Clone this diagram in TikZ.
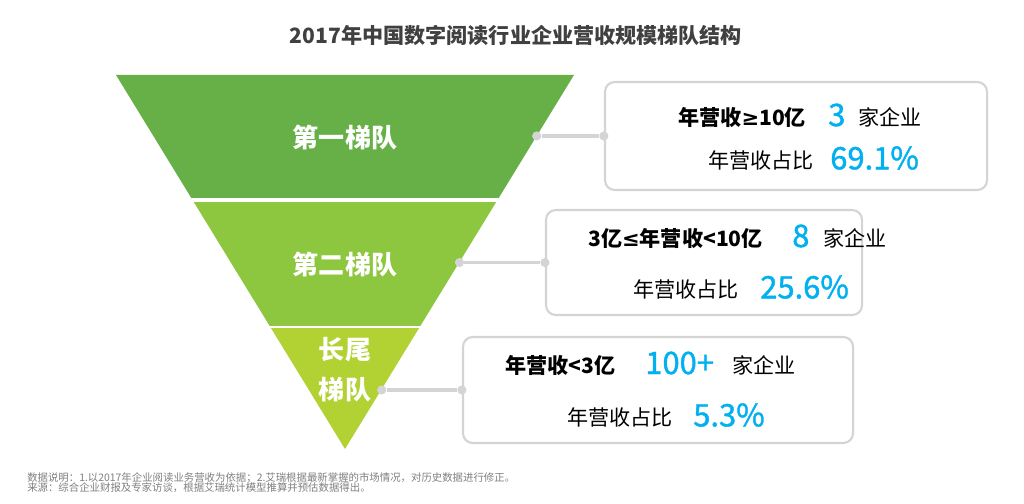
\documentclass[tikz,border=0pt]{standalone}
\usepackage{fontspec}
\setmainfont{Noto Sans CJK SC}
\newfontfamily\symfont{DejaVu Sans}
\newfontfamily\numfont[FakeBold=1.2]{Noto Sans CJK SC}
\definecolor{tierone}{RGB}{103, 176, 72}
\definecolor{tiertwo}{RGB}{141, 198, 63}
\definecolor{tierthree}{RGB}{178, 210, 52}
\definecolor{numblue}{RGB}{0, 176, 240}
\definecolor{linegray}{RGB}{212, 212, 212}
\definecolor{titlegray}{RGB}{64, 64, 64}
\definecolor{notegray}{RGB}{127, 127, 127}
\usepackage{tikz}

\begin{document}
\begin{tikzpicture}[
        x=0.025cm, y=-0.025cm,
        every node/.style={inner sep=0pt},
        tier/.style={text=white, font=\bfseries\fontsize{18.5}{28.5}\selectfont, align=center},
        infobox/.style={draw=linegray, line width=1.5pt, rounded corners=7pt, fill=white},
        dot/.style={circle, fill=linegray, minimum size=6.5pt},
        link/.style={draw=linegray, line width=2.2pt},
        txt/.style={anchor=west, font=\fontsize{15}{18}\selectfont},
        boldtxt/.style={anchor=west, font=\bfseries\fontsize{15}{18}\selectfont},
        num/.style={anchor=west, text=numblue, font=\numfont\fontsize{22}{26}\selectfont},
        note/.style={anchor=west, text=notegray, font=\fontsize{7.4}{9}\selectfont}
    ]
        \useasboundingbox (0,0) rectangle (1024,504);
        \node[text=titlegray, font=\bfseries\fontsize{15}{18}\selectfont] (title) at (516,35) {2017年中国数字阅读行业企业营收规模梯队结构};

        \begin{scope}
            \clip (116,75) -- (574,75) -- (345,449) -- cycle;
            \fill[tierone] (100,70) rectangle (600,198);
            \fill[tiertwo] (100,202) rectangle (600,326);
            \fill[tierthree] (100,328) rectangle (600,460);
        \end{scope}
        \node[tier] (t1) at (345,138) {第一梯队};
        \node[tier] (t2) at (345,265) {第二梯队};
        \node[tier] (t3) at (345,370) {长尾\\梯队};

        \node[infobox, minimum width=9.55cm, minimum height=2.7cm] (b1) at (796,136) {};
        \node[infobox, minimum width=7.9cm, minimum height=2.625cm] (b2) at (704,262.5) {};
        \node[infobox, minimum width=9.75cm, minimum height=2.65cm] (b3) at (658,390) {};

        \node[dot] (d1) at (536.7,136) {};
        \node[dot] (d2) at (459.5,262.5) {};
        \node[dot] (d3) at (381.7,390) {};
        \node[dot] (e1) at (b1.west) {};
        \node[dot] (e2) at (b2.west) {};
        \node[dot] (e3) at (b3.west) {};
        \draw[link] (d1) -- (e1);
        \draw[link] (d2) -- (e2);
        \draw[link] (d3) -- (e3);

        \node[boldtxt] (r1a) at (678,117) {年营收{\symfont ≥}10亿};
        \node[num] (r1b) at (828,115) {3};
        \node[txt] (r1c) at (858,117) {家企业};
        \node[txt] (s1a) at (708,160) {年营收占比};
        \node[num] (s1b) at (830,158) {69.1\%};

        \node[boldtxt] (r2a) at (588,238) {3亿{\symfont ≤}年营收<10亿};
        \node[num] (r2b) at (792,236) {8};
        \node[txt] (r2c) at (823,238) {家企业};
        \node[txt] (s2a) at (633,289) {年营收占比};
        \node[num] (s2b) at (760,287) {25.6\%};

        \node[boldtxt] (r3a) at (505,365) {年营收<3亿};
        \node[num] (r3b) at (645,363) {100+};
        \node[txt] (r3c) at (732,365) {家企业};
        \node[txt] (s3a) at (567,417) {年营收占比};
        \node[num] (s3b) at (693,415) {5.3\%};

        \node[note] (n1) at (27,478) {数据说明：1.以2017年企业阅读业务营收为依据；2.艾瑞根据最新掌握的市场情况，对历史数据进行修正。};
        \node[note] (n2) at (27,488) {来源：综合企业财报及专家访谈，根据艾瑞统计模型推算并预估数据得出。};
    \end{tikzpicture}
\end{document}
